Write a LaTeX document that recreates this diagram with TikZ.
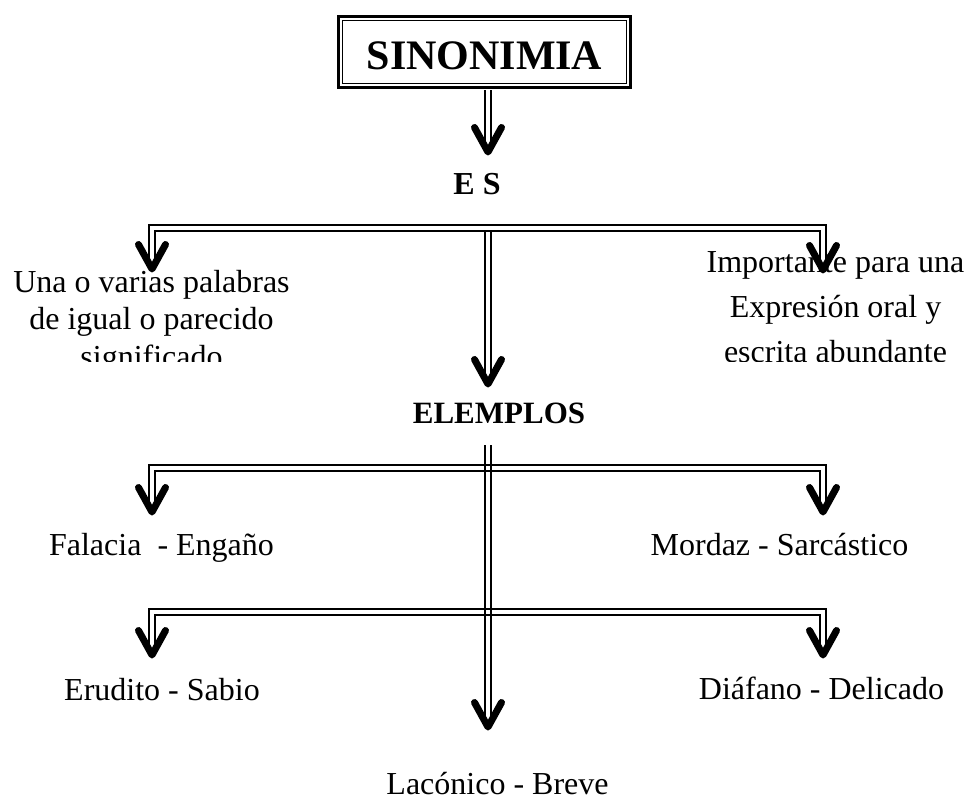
\documentclass[tikz,border=0pt]{standalone}
\usepackage{fontspec}
\setmainfont{Liberation Serif}
\begin{document}
\begin{tikzpicture}[x=1pt,y=-1pt,
  dbl/.style={draw=black,double=white,double distance=3.3pt,line width=2pt},
  rail/.style={draw=black,line width=2pt},
  txt/.style={inner sep=0pt,anchor=base,font=\fontsize{32}{37.5}\selectfont},
  hd/.style={inner sep=0pt,anchor=base,font=\bfseries\fontsize{32}{38}\selectfont},
  chev/.pic={\draw[line width=7pt,line cap=round,line join=round] (-13.5,-24.5) -- (0,0) -- (13.5,-24.5);}
]
\useasboundingbox (0,0) rectangle (973,799);
% title
\node[draw,line width=2.8pt,minimum width=292pt,minimum height=71pt,inner sep=0pt,
      text height=36pt,text depth=0pt,font=\bfseries\fontsize{42}{48}\selectfont] (t) at (484.5,52) {SINONIMIA};
\draw[line width=1.7pt] ([shift={(5.5,5.5)}]t.north west) rectangle ([shift={(-5.5,-5.5)}]t.south east);
% headings
\node[hd] (es) at (477,195) {E S};
\node[hd,font=\bfseries\fontsize{31}{37}\selectfont] (el) at (499,423) {ELEMPLOS};
% clipped text blocks (base anchor = baseline of the last line)
\begin{scope}
\clip (0,0) rectangle (973,361);
\node[txt,align=center] (ua) at (151.5,367) {Una o varias palabras\\de igual o parecido\\significado};
\node[txt,align=center,font=\fontsize{32}{45}\selectfont] (im) at (835.5,362) {Importante para una\\Expresión oral y\\escrita abundante};
\end{scope}
% examples
\node[txt] (fa) at (161.5,555) {Falacia \ - Engaño};
\node[txt] (mo) at (779.5,555) {Mordaz - Sarcástico};
\node[txt] (er) at (162,700) {Erudito - Sabio};
\node[txt] (di) at (821.5,699) {Diáfano - Delicado};
\node[txt] (la) at (497.5,794) {Lacónico - Breve};
% coordinates
\coordinate (p0) at (488,152);
\coordinate (b1l) at (152,228);
\coordinate (b1r) at (823,228);
\coordinate (b1c) at (488,228);
\coordinate (p1l) at (152,269);
\coordinate (p1r) at (823,270);
\coordinate (p1c) at (488,384);
\coordinate (b2l) at (152,468);
\coordinate (b2r) at (823,468);
\coordinate (p2l) at (152,512);
\coordinate (p2r) at (823,512);
\coordinate (b3l) at (152,612);
\coordinate (b3r) at (823,612);
\coordinate (p3l) at (152,655);
\coordinate (p3r) at (823,655);
\coordinate (v2t) at (488,445);
\coordinate (p4) at (488,727);
% connectors
\draw[dbl,shorten <=1.4pt] (t.south -| p0) -- (p0);
\draw[dbl] (b1c) -- (p1c);
\draw[dbl] (p1l) -- (b1l) -- (b1r) -- (p1r);
\draw[dbl] (p2l) -- (b2l) -- (b2r) -- (p2r);
\draw[dbl] (p3l) -- (b3l) -- (b3r) -- (p3r);
\draw[rail] ([xshift=-2.65pt]v2t) -- ([xshift=-2.65pt]p4);
\draw[rail] ([xshift=2.65pt]v2t) -- ([xshift=2.65pt]p4);
% arrowheads
\foreach \c in {p0,p1l,p1r,p1c,p2l,p2r,p3l,p3r,p4} {\pic at (\c) {chev};}
\end{tikzpicture}
\end{document}
